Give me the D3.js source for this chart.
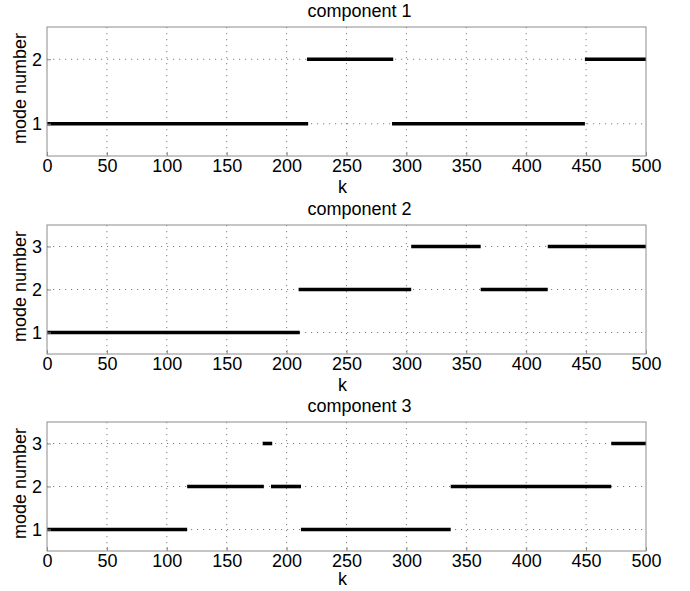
<!DOCTYPE html>
<html lang="en">
<head>
    <meta charset="UTF-8">
    <title>Mode number per component</title>
    <script src="https://cdn.jsdelivr.net/npm/d3@7/dist/d3.min.js"></script>
    <style>
        body{ margin:0; background:#fff; }
        text{ font-family: "Liberation Sans", Arial, sans-serif; fill:#000; }
        .grid line{ stroke:#808080; stroke-width:1px; stroke-dasharray:1.2,4.8; }
        .frame{ fill:none; stroke:#8c8c8c; stroke-width:1px; }
        .seg{ stroke:#000; stroke-width:3.6px; stroke-linecap:butt; }
    </style>
</head>
<body>
<svg id="main" width="690" height="591"></svg>
<script>
    // x ticks shared by every panel
    let kTicks = [0, 50, 100, 150, 200, 250, 300, 350, 400, 450, 500];
    let kDomain = [0, 500];

    // segments: [k start, k end, mode]
    let comp1 = [[0, 218, 1], [217, 289, 2], [288, 449, 1], [449, 500, 2]];
    let comp2 = [[0, 211, 1], [210, 304, 2], [304, 362, 3], [362, 418, 2], [418, 500, 3]];
    let comp3 = [[0, 117, 1], [117, 181, 2], [180, 188, 3], [187, 212, 2],
                 [212, 337, 1], [337, 471, 2], [471, 500, 3]];

    let titles = ['component 1', 'component 2', 'component 3'];
    let modeTicks = [[1, 2], [1, 2, 3], [1, 2, 3]];
    let series = [comp1, comp2, comp3];

    let svg = d3.select('svg#main');
    let W = 690, H = 591;
    svg.append('rect').attr('width', W).attr('height', H).attr('fill', '#fff');

    let left = 47, right = 646, plotH = 129;
    let tops = [27, 225, 422];

    let xScale = d3.scaleLinear().domain(kDomain).range([left, right]);

    series.forEach(function (segs, i) {
        let top = tops[i], bottom = top + plotH;
        let yTicks = modeTicks[i];
        let yScale = d3.scaleLinear()
            .domain([0.5, d3.max(yTicks) + 0.5])
            .range([bottom, top]);

        let g = svg.append('g');

        // dotted grid
        let grid = g.append('g').attr('class', 'grid');
        grid.selectAll('line.vx').data(kTicks.slice(1, -1)).join('line')
            .attr('x1', d => xScale(d)).attr('x2', d => xScale(d))
            .attr('y1', top).attr('y2', bottom);
        grid.selectAll('line.hy').data(yTicks).join('line')
            .attr('x1', left).attr('x2', right)
            .attr('y1', d => yScale(d)).attr('y2', d => yScale(d));

        // the mode segments
        g.selectAll('line.seg').data(segs).join('line')
            .attr('class', 'seg')
            .attr('x1', d => xScale(d[0])).attr('x2', d => xScale(d[1]))
            .attr('y1', d => yScale(d[2])).attr('y2', d => yScale(d[2]));

        // axes (labels only, matlab style inward ticks)
        let xAxis = g.append('g')
            .attr('transform', 'translate(0,' + bottom + ')')
            .call(d3.axisBottom(xScale).tickValues(kTicks).tickSize(-4).tickPadding(3).tickFormat(d3.format('d')));
        let yAxis = g.append('g')
            .attr('transform', 'translate(' + left + ',0)')
            .call(d3.axisLeft(yScale).tickValues(yTicks).tickSize(-4).tickPadding(5).tickFormat(d3.format('d')));
        [xAxis, yAxis].forEach(function (a) {
            a.select('.domain').remove();
            a.selectAll('.tick line').attr('stroke', '#8c8c8c');
            a.selectAll('.tick text').attr('font-size', 18)
                .attr('font-family', '"Liberation Sans", Arial, sans-serif');
        });
        xAxis.selectAll('.tick text').attr('dy', '0.71em');

        g.append('rect').attr('class', 'frame')
            .attr('x', left).attr('y', top)
            .attr('width', right - left).attr('height', plotH);

        // titles and labels
        g.append('text').attr('x', (left + right) / 2 + 13).attr('y', top - 10)
            .attr('text-anchor', 'middle').attr('font-size', 18).text(titles[i]);
        g.append('text').attr('x', (left + right) / 2 - 4).attr('y', Math.min(bottom + 37, H - 6))
            .attr('text-anchor', 'middle').attr('font-size', 18).text('k');
        g.append('text')
            .attr('transform', 'translate(26,' + ((top + bottom) / 2 - 3) + ') rotate(-90)')
            .attr('text-anchor', 'middle').attr('font-size', 18).text('mode number');
    });
</script>
</body>
</html>
